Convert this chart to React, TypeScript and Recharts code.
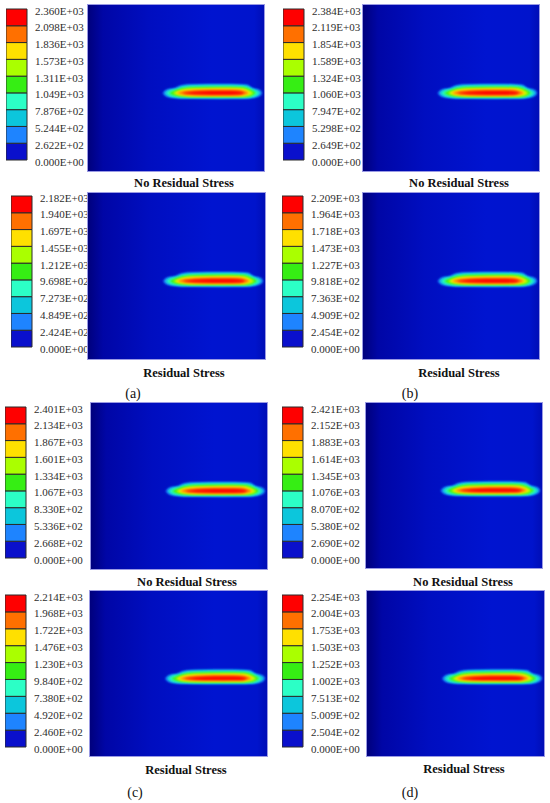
import { Area, Bar, BarChart, ComposedChart, XAxis, YAxis } from "recharts";

// Contour levels printed beside each colour bar (bottom to top).
const noStressA = [0, 262.2, 524.4, 787.6, 1049, 1311, 1573, 1836, 2098, 2360];
const noStressB = [0, 264.9, 529.8, 794.7, 1060, 1324, 1589, 1854, 2119, 2384];
const stressA = [0, 242.4, 484.9, 727.3, 969.8, 1212, 1455, 1697, 1940, 2182];
const stressB = [0, 245.4, 490.9, 736.3, 981.8, 1227, 1473, 1718, 1964, 2209];
const noStressC = [0, 266.8, 533.6, 833.0, 1067, 1334, 1601, 1867, 2134, 2401];
const noStressD = [0, 269.0, 538.0, 807.0, 1076, 1345, 1614, 1883, 2152, 2421];
const stressC = [0, 246.0, 492.0, 738.0, 984.0, 1230, 1476, 1722, 1968, 2214];
const stressD = [0, 250.4, 500.9, 751.3, 1002, 1252, 1503, 1753, 2004, 2254];

// Hot spot contour bands, [x, lower edge, upper edge] in percent of the field.
const band1 = [
	[42.5, 47.0, 47.0], [44, 45.2, 48.6], [46, 44.5, 49.4], [49, 44.0, 49.9], [52, 43.8, 51.3],
	[56, 43.7, 52.1], [65, 43.6, 52.3], [75, 43.6, 52.4], [85, 43.6, 52.3], [90, 43.7, 52.0],
	[92, 43.9, 50.6], [94, 44.2, 49.6], [96, 44.8, 49.3], [97.5, 45.5, 48.6], [98.3, 46.8, 47.2],
];
const band2 = [
	[43.5, 47.0, 47.0], [45, 45.4, 48.5], [47, 44.8, 49.1], [50, 44.3, 49.6], [53, 44.1, 51.1],
	[58, 44.0, 51.7], [75, 43.95, 51.9], [88, 44.0, 51.7], [90.5, 44.1, 51.2], [93, 44.5, 49.5],
	[95.5, 45.1, 48.9], [97.5, 46.9, 47.1],
];
const band3 = [
	[44.5, 47.0, 47.0], [47, 45.2, 48.7], [50, 44.7, 49.3], [54, 44.4, 50.6], [60, 44.3, 51.2],
	[75, 44.3, 51.4], [87, 44.3, 51.2], [91, 44.5, 50.2], [94, 45.1, 48.7], [96.5, 46.9, 47.1],
];
const band4 = [
	[46, 47.0, 47.0], [49, 45.5, 48.5], [53, 44.9, 49.8], [60, 44.65, 50.6], [75, 44.6, 50.8],
	[87, 44.6, 50.6], [91, 44.9, 49.5], [95, 46.9, 47.1],
];
const band5 = [
	[48, 46.9, 47.1], [52, 45.5, 48.7], [58, 45.0, 49.8], [75, 44.9, 50.2], [87, 44.9, 50.0],
	[90.5, 45.2, 49.1], [93.5, 46.8, 47.2],
];
const band6 = [
	[49.5, 46.9, 47.1], [53, 45.7, 48.6], [60, 45.3, 49.4], [75, 45.2, 49.7], [86, 45.2, 49.5],
	[92, 46.8, 47.2],
];
const band7 = [
	[51, 46.9, 47.1], [56, 45.9, 48.3], [65, 45.6, 48.9], [75, 45.55, 49.1], [85, 45.6, 48.9],
	[90.5, 46.8, 47.2],
];
const band8 = [
	[54, 46.85, 47.15], [60, 46.3, 47.8], [70, 46.05, 48.15], [78, 46.05, 48.25], [84, 46.15, 48.0],
	[88, 46.75, 47.25],
];

const levelColors = [
	"#0a10cc", "#1e84ff", "#0cc6dc", "#2cffc6", "#36ee14",
	"#aaff00", "#ffe000", "#ff7000", "#ff0000",
];
const bands = [band1, band2, band3, band4, band5, band6, band7, band8];

const serif = "'Liberation Serif', 'Times New Roman', serif";

type PanelLayout = {
	id: string;
	levels: number[];
	barX: number;
	barTop: number;
	barBottom: number;
	plot: [number, number, number, number];
	title: string;
	titleX: number;
	titleY: number;
};

const panels: PanelLayout[] = [
	{ id: "a1", levels: noStressA, barX: 6, barTop: 9, barBottom: 160, plot: [87, 4, 265, 172], title: "No Residual Stress", titleX: 184, titleY: 183 },
	{ id: "b1", levels: noStressB, barX: 283, barTop: 9, barBottom: 160, plot: [362, 4, 540, 172], title: "No Residual Stress", titleX: 459, titleY: 183 },
	{ id: "a2", levels: stressA, barX: 11, barTop: 196, barBottom: 347, plot: [87, 192, 266, 360], title: "Residual Stress", titleX: 184, titleY: 373 },
	{ id: "b2", levels: stressB, barX: 282, barTop: 196, barBottom: 347, plot: [362, 192, 540, 360], title: "Residual Stress", titleX: 459, titleY: 373 },
	{ id: "c1", levels: noStressC, barX: 5, barTop: 407, barBottom: 558, plot: [90, 402, 268, 570], title: "No Residual Stress", titleX: 187, titleY: 582 },
	{ id: "d1", levels: noStressD, barX: 282, barTop: 407, barBottom: 558, plot: [365, 402, 543, 569], title: "No Residual Stress", titleX: 463, titleY: 582 },
	{ id: "c2", levels: stressC, barX: 5, barTop: 595, barBottom: 747, plot: [89, 590, 268, 757], title: "Residual Stress", titleX: 186, titleY: 770 },
	{ id: "d2", levels: stressD, barX: 282, barTop: 595, barBottom: 747, plot: [366, 590, 545, 757], title: "Residual Stress", titleX: 464, titleY: 769 },
];

const captions = [
	{ text: "(a)", x: 133, y: 394 },
	{ text: "(b)", x: 410, y: 394 },
	{ text: "(c)", x: 135, y: 793 },
	{ text: "(d)", x: 410, y: 793 },
];

// 2360 -> "2.360E+03"
function formatLevel(value: number) {
	const [mantissa, exp] = value.toExponential(3).split("e");
	const sign = exp.startsWith("-") ? "-" : "+";
	const digits = exp.replace(/[+-]/, "").padStart(2, "0");
	return `${mantissa}E${sign}${digits}`;
}

function LevelTick(props: any) {
	const { x, y, payload, levels } = props;
	return (
		<text
			x={x}
			y={y}
			dy={5.5}
			fill="#2e2e2e"
			textAnchor="start"
			style={{ fontFamily: serif, fontSize: 11 }}
		>
			{formatLevel(levels[payload.value])}
		</text>
	);
}

const BAR_W = 21;
const LABEL_W = 69;
const PAD = 12;

function ColourBar({ panel }: { panel: PanelLayout }) {
	// One equal box per interval between two printed levels.
	const row: Record<string, number | string> = { name: panel.id };
	panel.levels.slice(1).forEach((_, i) => {
		row[`s${i}`] = 1;
	});
	const ticks = panel.levels.map((_, i) => i);
	const height = panel.barBottom - panel.barTop;
	return (
		<div style={{ position: "absolute", left: panel.barX, top: panel.barTop - PAD }}>
			<BarChart
				width={BAR_W + LABEL_W}
				height={height + PAD * 2}
				data={[row]}
				margin={{ top: PAD, right: 0, bottom: PAD, left: 0 }}
				barCategoryGap={0}
				barGap={0}
			>
				<XAxis dataKey="name" hide />
				<YAxis
					orientation="right"
					type="number"
					domain={[0, panel.levels.length - 1]}
					ticks={ticks}
					interval={0}
					width={LABEL_W}
					axisLine={false}
					tickLine={false}
					tick={<LevelTick levels={panel.levels} />}
				/>
				{levelColors.map((color, i) => (
					<Bar
						key={color}
						dataKey={`s${i}`}
						stackId="legend"
						fill={color}
						stroke="#2a2a2a"
						strokeWidth={1}
						isAnimationActive={false}
					/>
				))}
			</BarChart>
		</div>
	);
}

function FieldPlot({ panel }: { panel: PanelLayout }) {
	const [x0, y0, x1, y1] = panel.plot;
	const width = x1 - x0;
	const height = y1 - y0;
	const blur = `soft-${panel.id}`;
	return (
		<div
			style={{
				position: "absolute",
				left: x0,
				top: y0,
				width,
				height,
				background:
					"linear-gradient(90deg, #00007a 0%, #0006a6 9%, #000ec0 35%, #0014d0 70%, #0014cc 94%, #000db4 100%)",
				boxShadow: "inset 0 0 0 1px #9a9ae4",
			}}
		>
			<ComposedChart width={width} height={height} margin={{ top: 0, right: 0, bottom: 0, left: 0 }}>
				<defs>
					<filter id={blur} x="-10%" y="-50%" width="120%" height="200%">
						<feGaussianBlur stdDeviation="0.85" />
					</filter>
				</defs>
				<XAxis type="number" dataKey="x" domain={[0, 100]} allowDataOverflow hide />
				<YAxis type="number" domain={[0, 100]} allowDataOverflow hide />
				{bands.map((band, i) => (
					<Area
						key={i}
						data={band.map(([x, lo, hi]) => ({ x, range: [lo, hi] }))}
						dataKey="range"
						type="monotone"
						fill={levelColors[i + 1]}
						fillOpacity={1}
						stroke="none"
						filter={`url(#${blur})`}
						dot={false}
						activeDot={false}
						isAnimationActive={false}
					/>
				))}
			</ComposedChart>
		</div>
	);
}

export default function App() {
	return (
		<div style={{ position: "absolute", left: 0, top: 0, width: 550, height: 803, background: "#fff" }}>
			{panels.map((panel) => (
				<div key={panel.id}>
					<ColourBar panel={panel} />
					<FieldPlot panel={panel} />
					<div
						style={{
							position: "absolute",
							left: panel.titleX - 100,
							top: panel.titleY - 8,
							width: 200,
							textAlign: "center",
							fontFamily: serif,
							fontWeight: "bold",
							fontSize: 12.5,
							lineHeight: "16px",
							color: "#111",
						}}
					>
						{panel.title}
					</div>
				</div>
			))}
			{captions.map((c) => (
				<div
					key={c.text}
					style={{
						position: "absolute",
						left: c.x - 30,
						top: c.y - 9,
						width: 60,
						textAlign: "center",
						fontFamily: serif,
						fontSize: 14,
						lineHeight: "18px",
						color: "#111",
					}}
				>
					{c.text}
				</div>
			))}
		</div>
	);
}
